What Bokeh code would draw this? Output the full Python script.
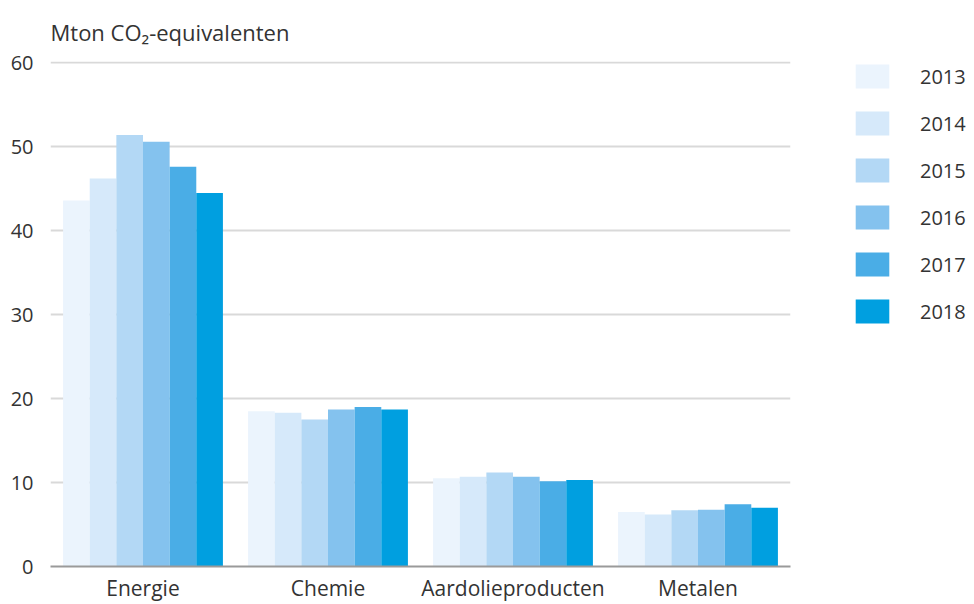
from bokeh.plotting import figure
from bokeh.models import ColumnDataSource, Legend, LegendItem, FactorRange, Range1d, FixedTicker
from bokeh.transform import dodge
from bokeh.embed import file_html
from bokeh.resources import INLINE

categories = ["Energie", "Chemie", "Aardolieproducten", "Metalen"]
years = ["2013", "2014", "2015", "2016", "2017", "2018"]
v2013 = [43.6, 18.5, 10.5, 6.5]
v2014 = [46.2, 18.3, 10.7, 6.2]
v2015 = [51.4, 17.5, 11.2, 6.7]
v2016 = [50.6, 18.7, 10.7, 6.75]
v2017 = [47.6, 19.0, 10.15, 7.4]
v2018 = [44.5, 18.7, 10.3, 7.0]
y_ticks = [0, 10, 20, 30, 40, 50, 60]
axis_title = "Mton CO\u2082-equivalenten"

colors = ["#ebf4fd", "#d6e9fa", "#b3d8f5", "#84c2ee", "#4aade6", "#009fe0"]
FONT = "Open Sans"
TXT = "#333333"

src = ColumnDataSource(dict(cat=categories, **{"y2013": v2013, "y2014": v2014, "y2015": v2015,
                                               "y2016": v2016, "y2017": v2017, "y2018": v2018}))

p = figure(x_range=FactorRange(*categories), y_range=Range1d(0, 60.15),
           frame_width=740, frame_height=505, output_backend="svg", toolbar_location=None,
           min_border_left=50, min_border_right=0, min_border_top=57, min_border_bottom=26)

bw = 0.144
items = []
for i, y in enumerate(years):
    r = p.vbar(x=dodge("cat", (i - 2.5) * bw, range=p.x_range), top="y" + y, width=bw,
               source=src, fill_color=colors[i], line_color=None)
    items.append(LegendItem(label=y, renderers=[r]))

p.title.text = axis_title
p.title.text_font = FONT
p.title.text_font_size = "22px"
p.title.text_font_style = "normal"
p.title.text_color = TXT
p.title.align = "left"
p.title.offset = 0
p.title.standoff = 29

p.outline_line_color = None
p.xgrid.grid_line_color = None
p.ygrid.grid_line_color = "#d9d9d9"
p.ygrid.grid_line_width = 2

p.yaxis.ticker = FixedTicker(ticks=y_ticks)
p.yaxis.axis_line_color = None
p.yaxis.major_tick_line_color = None
p.yaxis.minor_tick_line_color = None
p.yaxis.major_label_text_font = FONT
p.yaxis.major_label_text_font_size = "20px"
p.yaxis.major_label_text_color = TXT
p.yaxis.major_label_standoff = 11

p.xaxis.axis_line_color = "#9a9a9a"
p.xaxis.axis_line_width = 2
p.xaxis.major_tick_line_color = None
p.xaxis.minor_tick_line_color = None
p.xaxis.major_label_text_font = FONT
p.xaxis.major_label_text_font_size = "21px"
p.xaxis.major_label_text_color = TXT
p.xaxis.major_label_standoff = 1

legend = Legend(items=items, location=(61, 240))
legend.glyph_width = 42
legend.glyph_height = 30
legend.label_height = 30
legend.spacing = 17
legend.padding = 0
legend.margin = 0
legend.label_standoff = 27
legend.label_text_font = FONT
legend.label_text_font_size = "20px"
legend.label_text_color = TXT
legend.border_line_color = None
legend.background_fill_alpha = 0
legend.click_policy = "none"
p.add_layout(legend, "right")

open("out.html", "w").write(file_html(p, INLINE))
